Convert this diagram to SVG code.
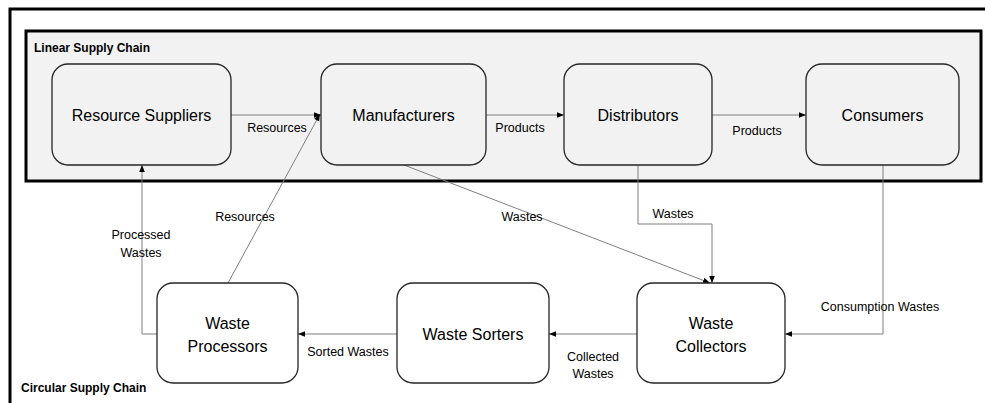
<svg xmlns="http://www.w3.org/2000/svg" width="985" height="403" viewBox="0 0 985 403">
<defs>
<marker id="ah" viewBox="0 0 10 10" refX="10" refY="5" markerWidth="7" markerHeight="7" markerUnits="userSpaceOnUse" orient="auto">
<path d="M0,1 L10,5 L0,9 Z" fill="#000"/>
</marker>
</defs>
<style>
.node{fill:#f2f2f2;stroke:#262626;stroke-width:1.3}
.bnode{fill:#fff;stroke:#262626;stroke-width:1.3}
.nt{font-family:"Liberation Sans",Arial,sans-serif;font-size:16px;fill:#000;text-anchor:middle}
.lt{font-family:"Liberation Sans",Arial,sans-serif;font-size:12.5px;fill:#000;text-anchor:middle}
.bt{font-family:"Liberation Sans",Arial,sans-serif;font-size:12px;font-weight:bold;fill:#000}
.c{fill:none;stroke:#7f7f7f;stroke-width:1;marker-end:url(#ah)}
</style>
<rect x="0" y="0" width="985" height="403" fill="#fff"/>
<rect x="10" y="9" width="1000" height="420" fill="#fff" stroke="#000" stroke-width="3"/>
<g id="linear">
<rect x="26" y="31" width="955" height="150" fill="#f2f2f2" stroke="#000" stroke-width="3"/>
<text class="bt" x="34" y="52">Linear Supply Chain</text>
</g>
<text class="bt" x="21" y="392">Circular Supply Chain</text>
<g id="connectors">
<line class="c" x1="231" y1="115" x2="321" y2="115"/>
<line class="c" x1="486" y1="115" x2="564" y2="115"/>
<line class="c" x1="712" y1="115" x2="806" y2="115"/>
<polyline class="c" points="157,334 142,334 142,165"/>
<line class="c" x1="228" y1="283" x2="320" y2="114"/>
<line class="c" x1="404" y1="165" x2="710" y2="283"/>
<polyline class="c" points="638,165 638,224 712,224 712,283"/>
<polyline class="c" points="883,165 883,334 785,334"/>
<line class="c" x1="637" y1="334" x2="549" y2="334"/>
<line class="c" x1="397" y1="334" x2="298" y2="334"/>
<text class="lt" x="277" y="132">Resources</text>
<text class="lt" x="520" y="132">Products</text>
<text class="lt" x="757" y="135">Products</text>
<text class="lt" x="141" y="239">Processed</text>
<text class="lt" x="141" y="257">Wastes</text>
<text class="lt" x="245" y="221">Resources</text>
<text class="lt" x="522" y="221">Wastes</text>
<text class="lt" x="673" y="218">Wastes</text>
<text class="lt" x="880" y="311">Consumption Wastes</text>
<text class="lt" x="593" y="361">Collected</text>
<text class="lt" x="593" y="378">Wastes</text>
<text class="lt" x="348" y="356">Sorted Wastes</text>
</g>
<g id="resource-suppliers">
<rect class="node" x="52" y="64" width="179" height="101" rx="16"/>
<text class="nt" x="141.5" y="121">Resource Suppliers</text>
</g>
<g id="manufacturers">
<rect class="node" x="321" y="64" width="165" height="101" rx="16"/>
<text class="nt" x="403.5" y="121">Manufacturers</text>
</g>
<g id="distributors">
<rect class="node" x="564" y="64" width="148" height="101" rx="16"/>
<text class="nt" x="638" y="121">Distributors</text>
</g>
<g id="consumers">
<rect class="node" x="806" y="64" width="153" height="101" rx="16"/>
<text class="nt" x="882.5" y="121">Consumers</text>
</g>
<g id="waste-processors">
<rect class="bnode" x="157" y="283" width="141" height="100" rx="16"/>
<text class="nt" x="227.5" y="329">Waste</text>
<text class="nt" x="227.5" y="352">Processors</text>
</g>
<g id="waste-sorters">
<rect class="bnode" x="397" y="283" width="152" height="100" rx="16"/>
<text class="nt" x="473" y="340">Waste Sorters</text>
</g>
<g id="waste-collectors">
<rect class="bnode" x="637" y="283" width="148" height="100" rx="16"/>
<text class="nt" x="711" y="329">Waste</text>
<text class="nt" x="711" y="352">Collectors</text>
</g>
</svg>
